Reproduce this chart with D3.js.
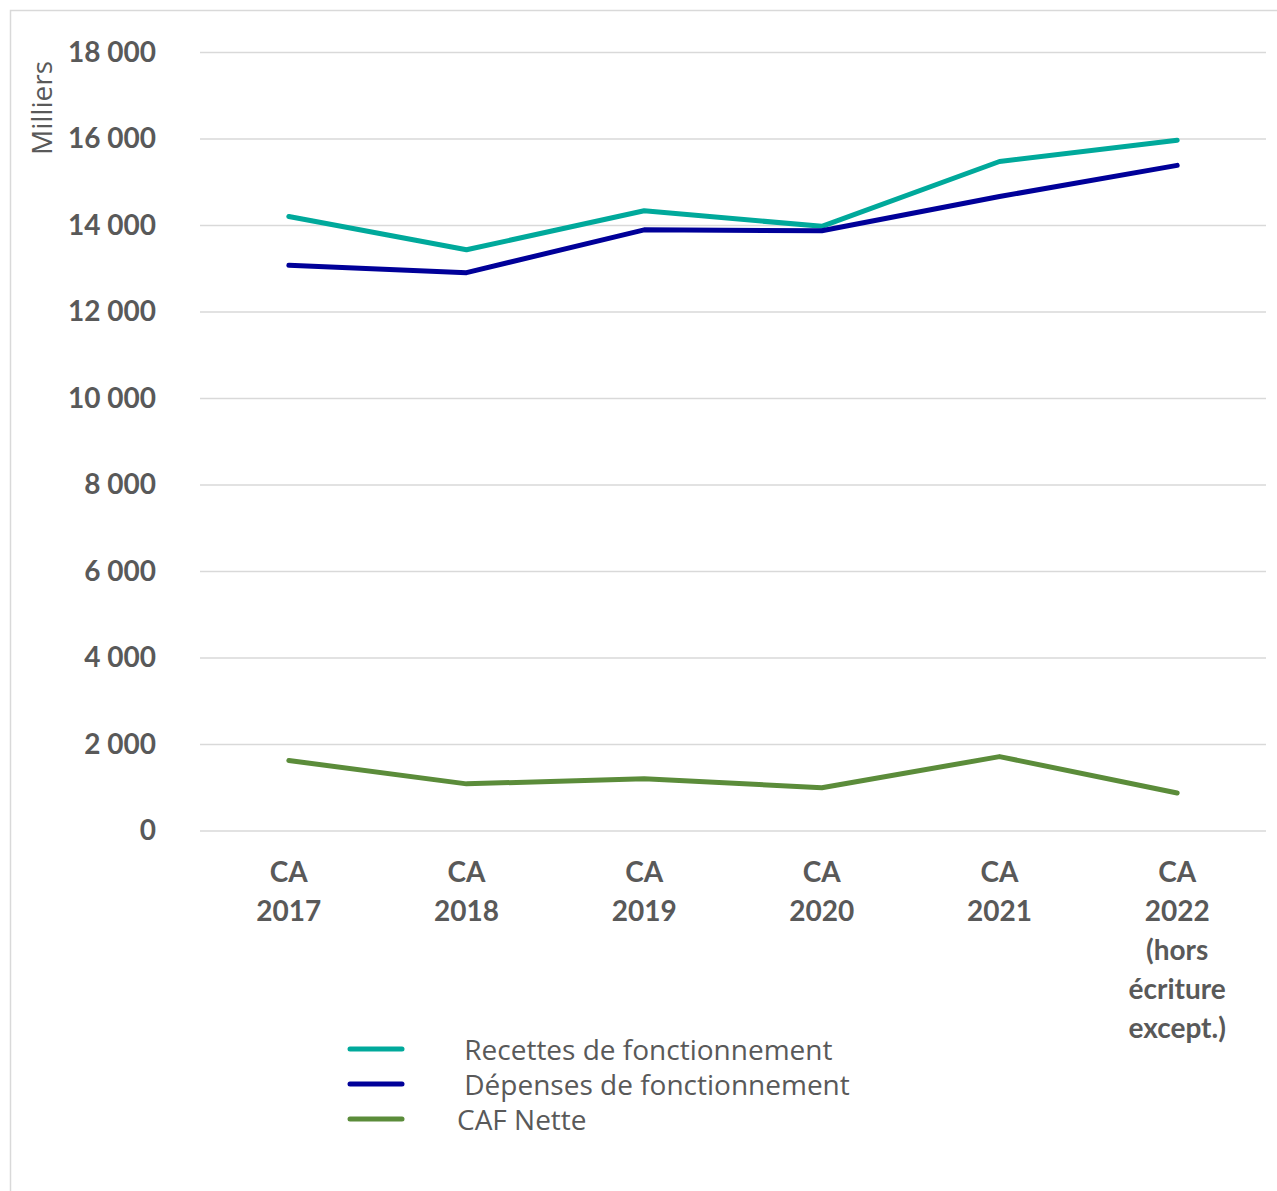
<!DOCTYPE html>
<html>
<head>
<meta charset="utf-8">
<script src="https://cdn.jsdelivr.net/npm/d3@7"></script>
<style>
  body { margin: 0; background: #fff; }
  svg { font-family: Lato, "Open Sans", sans-serif; }
</style>
</head>
<body>
<div id="chart"></div>
<script>
// data (milliers d'euros)
var categories = [
    ["CA", "2017"],
    ["CA", "2018"],
    ["CA", "2019"],
    ["CA", "2020"],
    ["CA", "2021"],
    ["CA", "2022", "(hors", "écriture", "except.)"]
];
var recettes = [14210, 13440, 14340, 13980, 15480, 15970];
var depenses = [13080, 12910, 13900, 13880, 14670, 15390];
var cafNette = [1630, 1090, 1210, 1000, 1720, 880];
var yTicks = [0, 2000, 4000, 6000, 8000, 10000, 12000, 14000, 16000, 18000];

var series = [
    { name: "Recettes de fonctionnement", values: recettes, color: "#00a99b" },
    { name: "Dépenses de fonctionnement", values: depenses, color: "#000099" },
    { name: "CAF Nette", values: cafNette, color: "#5b8c3a" }
];

var W = 1277, H = 1191;
var svg = d3.select("#chart")
    .append("svg")
    .attr("width", W)
    .attr("height", H);

// chart border
svg.append("path")
    .attr("d", "M10.5," + H + " V10.5 H" + W)
    .attr("fill", "none")
    .attr("stroke", "#d9d9d9")
    .attr("stroke-width", 1.5);

var x = d3.scalePoint()
    .domain(d3.range(categories.length))
    .range([200, 1266])
    .padding(0.5);

var y = d3.scaleLinear()
    .domain([0, 18000])
    .range([831, 52.5]);

// grid lines
svg.append("g")
    .selectAll("line")
    .data(yTicks)
    .join("line")
    .attr("x1", 200)
    .attr("x2", 1266)
    .attr("y1", function (d) { return y(d) })
    .attr("y2", function (d) { return y(d) })
    .attr("stroke", "#d9d9d9")
    .attr("stroke-width", 1.5);

// Y axis labels
var fmt = function (d) { return d3.format(",")(d).replace(/,/g, " ") };
var yAxis = svg.append("g")
    .attr("transform", "translate(156,0)")
    .call(d3.axisLeft(y).tickValues(yTicks).tickFormat(fmt).tickSize(0).tickPadding(0));
yAxis.select(".domain").remove();
yAxis.selectAll("text")
    .attr("fill", "#595959")
    .attr("font-size", 28)
    .attr("font-weight", "bold")
    .attr("font-family", "Lato, sans-serif");

svg.append("text")
    .attr("transform", "translate(52,108) rotate(-90)")
    .attr("text-anchor", "middle")
    .attr("fill", "#595959")
    .attr("font-family", "'Open Sans', sans-serif")
    .attr("font-size", 28)
    .text("Milliers");

// X axis labels
var xl = svg.append("g")
    .selectAll("text")
    .data(categories)
    .join("text")
    .attr("text-anchor", "middle")
    .attr("fill", "#595959")
    .attr("font-size", 28)
    .attr("font-weight", "bold")
    .attr("transform", function (d, i) { return "translate(" + x(i) + ",882)" });
xl.selectAll("tspan")
    .data(function (d) { return d })
    .join("tspan")
    .attr("x", 0)
    .attr("y", function (d, i) { return i * 39 })
    .text(function (d) { return d });

// lines
var line = d3.line()
    .x(function (d, i) { return x(i) })
    .y(function (d) { return y(d) });

svg.append("g")
    .selectAll("path")
    .data(series)
    .join("path")
    .attr("fill", "none")
    .attr("stroke", function (d) { return d.color })
    .attr("stroke-width", 5)
    .attr("stroke-linecap", "round")
    .attr("stroke-linejoin", "round")
    .attr("d", function (d) { return line(d.values) });

// legend
var legendText = ["\u00a0Recettes de fonctionnement", "\u00a0Dépenses de fonctionnement", "CAF Nette"];
var lg = svg.append("g")
    .selectAll("g")
    .data(series)
    .join("g")
    .attr("transform", function (d, i) { return "translate(350," + (1049 + i * 35) + ")" });
lg.append("line")
    .attr("x1", 0)
    .attr("x2", 52)
    .attr("stroke", function (d) { return d.color })
    .attr("stroke-width", 5)
    .attr("stroke-linecap", "round");
lg.append("text")
    .attr("x", 107)
    .attr("y", 1)
    .attr("dy", "0.35em")
    .attr("fill", "#595959")
    .attr("font-family", "'Open Sans', sans-serif")
    .attr("font-size", 28)
    .text(function (d, i) { return legendText[i] });
</script>
</body>
</html>
